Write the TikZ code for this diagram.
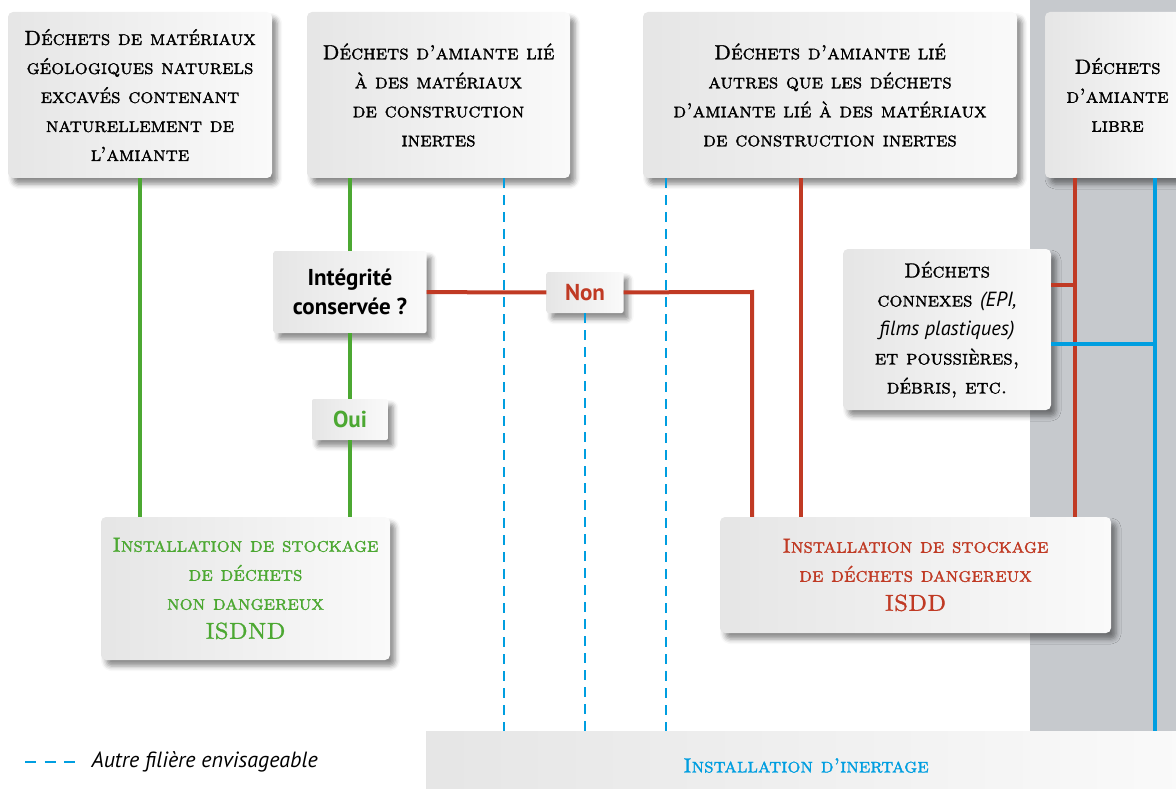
\documentclass[tikz,border=0pt]{standalone}
\usepackage{fontspec}
\newfontfamily\sansf{PT Sans}
\newfontfamily\capsf{lmromancaps10-regular.otf}[FakeBold=1.4]
\usetikzlibrary{shadows.blur}
\definecolor{vert}{RGB}{76,168,50}
\definecolor{rouge}{RGB}{192,58,36}
\definecolor{bleu}{RGB}{0,158,224}
\definecolor{bande}{RGB}{198,201,205}

\begin{document}
\begin{tikzpicture}[x=1pt,y=-1pt]

      \tikzset{boite/.style={rounded corners=5pt, left color=black!10, right color=black!2, inner sep=0pt, align=center,
                             blur shadow={shadow xshift=5pt, shadow yshift=-6pt, shadow blur radius=5pt, shadow opacity=45},
                             font=\fontsize{20.5}{29}\selectfont\capsf\bfseries},
               petite/.style={boite, rounded corners=2pt, font=\fontsize{23}{29}\selectfont\sansf\bfseries},
               trait/.style={line width=4pt},
               pointille/.style={bleu, line width=2.4pt, dash pattern=on 10pt off 7pt}}
      \useasboundingbox (0,0) rectangle (1176,789);
      \fill[bande] (1030,0) rectangle (1176,731);
%% Boxes
      	\node[boite, minimum width=264pt, minimum height=166pt] (geol) at (140,95)
      	     {Déchets de matériaux\\géologiques naturels\\excavés contenant\\naturellement de\\l’amiante};
      	\node[boite, minimum width=263pt, minimum height=166pt] (lieInerte) at (438.5,95)
      	     {Déchets d’amiante lié\\à des matériaux\\de construction\\inertes};
      	\node[boite, minimum width=374pt, minimum height=166pt] (lieAutre) at (830,95)
      	     {Déchets d’amiante lié\\autres que les déchets\\d’amiante lié à des matériaux\\de construction inertes};
      	\node[boite, minimum width=145pt, minimum height=166pt] (libre) at (1117.5,95)
      	     {Déchets\\d’amiante\\libre};
      	\node[petite, minimum width=153pt, minimum height=82pt] (integ) at (350,292) {Intégrité\\conservée ?};
      	\node[petite, minimum width=77pt, minimum height=41pt, text=rouge] (non) at (585,292.5) {Non};
      	\node[petite, minimum width=76pt, minimum height=41pt, text=vert] (oui) at (350,419.5) {Oui};
      	\node[boite, minimum width=208pt, minimum height=161pt] (connexes) at (947,329.5)
      	     {Déchets\\connexes {\sansf\mdseries\itshape (EPI,}\\{\sansf\mdseries\itshape films plastiques)}\\et poussières,\\débris, etc.};
      	\node[boite, minimum width=289pt, minimum height=143pt, text=vert] (isdnd) at (245.5,588.5)
      	     {Installation de stockage\\de déchets\\non dangereux\\{\fontsize{23}{29}\selectfont ISDND}};
      	\node[boite, minimum width=391pt, minimum height=116pt, text=rouge] (isdd) at (915.5,575)
      	     {Installation de stockage\\de déchets dangereux\\{\fontsize{23}{29}\selectfont ISDD}};
      	\node[boite, rounded corners=0pt, minimum width=760pt, minimum height=69pt, text=bleu] (inert) at (806,765.5)
      	     {Installation d’inertage};
      	\node[anchor=west, font=\fontsize{22}{26}\selectfont\sansf\itshape] (legende) at (88,762) {Autre filière envisageable};
%Points
      	\coordinate (d1) at ([xshift=65.5pt]lieInerte.south);
      	\coordinate (d3) at ([xshift=-164pt]lieAutre.south);
      	\coordinate (r1) at ([xshift=-29pt]lieAutre.south);
      	\coordinate (r2) at ([xshift=-42.5pt]libre.south);
      	\coordinate (b2) at ([xshift=37.5pt]libre.south);
      	\coordinate (coude) at (752,292);
      	\coordinate (legA) at (25,762);
%Edges
		\path [trait, vert] (geol) edge (geol |- isdnd.north);
		\path [trait, vert] (integ |- lieInerte.south) edge (integ);
		\path [trait, vert] (integ) edge (oui);
		\path [trait, vert] (oui) edge (oui |- isdnd.north);
		\path [trait, rouge] (integ) edge (non);
		\draw [trait, rouge] (non) -- (coude) -- (coude |- isdd.north);
		\path [trait, rouge] (r1) edge (r1 |- isdd.north);
		\path [trait, rouge] (r2) edge (r2 |- isdd.north);
		\path [trait, rouge] ([yshift=44.5pt]connexes.east) edge ([yshift=44.5pt]connexes.east -| r2);
		\path [trait, bleu] (b2) edge (b2 |- inert.north);
		\path [trait, bleu] ([yshift=-14.5pt]connexes.east) edge ([yshift=-14.5pt]connexes.east -| b2);
		\path [pointille] (d1) edge (d1 |- inert.north);
		\path [pointille] (non) edge (non |- inert.north);
		\path [pointille] (d3) edge (d3 |- inert.north);
		\draw [bleu, line width=2.4pt, dash pattern=on 11pt off 8.5pt] (legA) -- ([xshift=-8pt]legende.west);

	\end{tikzpicture}
\end{document}
